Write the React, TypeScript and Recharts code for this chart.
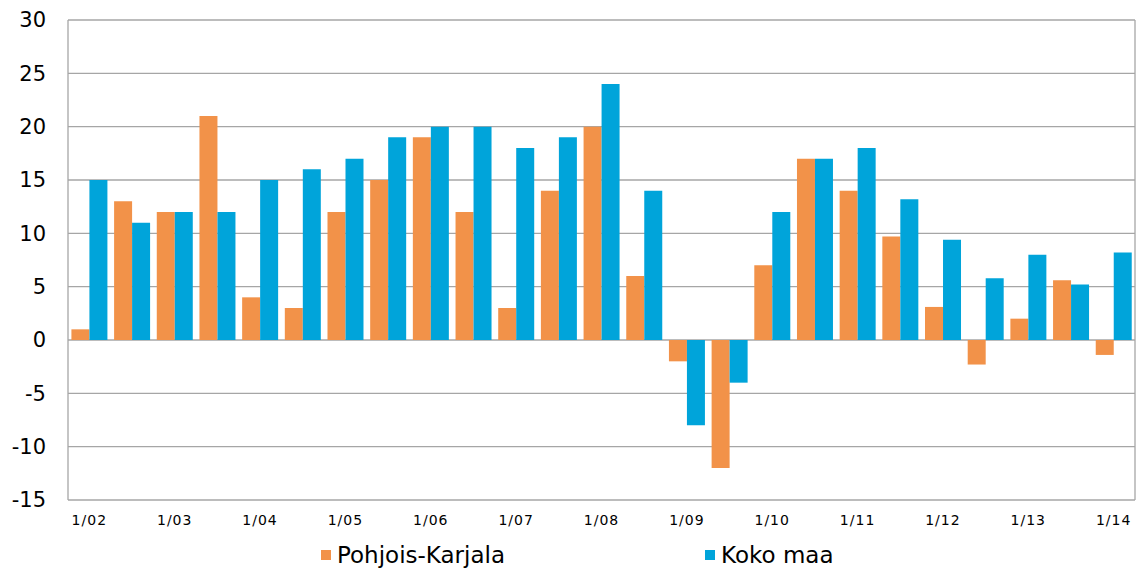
import { BarChart, Bar, XAxis, YAxis, CartesianGrid } from "recharts"

const categories = [
  "1/02", "7/02", "1/03", "7/03", "1/04", "7/04", "1/05", "7/05", "1/06", "7/06",
  "1/07", "7/07", "1/08", "7/08", "1/09", "7/09", "1/10", "7/10", "1/11", "7/11",
  "1/12", "7/12", "1/13", "7/13", "1/14",
]
const pohjoisKarjala = [
  1, 13, 12, 21, 4, 3, 12, 15, 19, 12,
  3, 14, 20, 6, -2, -12, 7, 17, 14, 9.7,
  3.1, -2.3, 2, 5.6, -1.4,
]
const kokoMaa = [
  15, 11, 12, 12, 15, 16, 17, 19, 20, 20,
  18, 19, 24, 14, -8, -4, 12, 17, 18, 13.2,
  9.4, 5.8, 8, 5.2, 8.2,
]
const yTicks = [-15, -10, -5, 0, 5, 10, 15, 20, 25, 30]

const ORANGE = "#F29249"
const BLUE = "#00A4DA"

const data = categories.map((c, i) => ({
  cat: c,
  pk: pohjoisKarjala[i],
  km: kokoMaa[i],
}))

function LegendItem({ color, label, left }: { color: string; label: string; left: number }) {
  return (
    <div style={{ position: "absolute", left, top: 541, display: "flex", alignItems: "center" }}>
      <span style={{ width: 10, height: 10, background: color, marginRight: 6, display: "inline-block" }} />
      <span style={{ fontSize: 23, color: "#000", fontFamily: "'DejaVu Sans', sans-serif", lineHeight: "28px" }}>
        {label}
      </span>
    </div>
  )
}

export default function App() {
  return (
    <div style={{ position: "absolute", left: 0, top: 0, width: 1146, height: 571, background: "#fff", overflow: "hidden" }}>
      <BarChart
        width={1146}
        height={571}
        data={data}
        margin={{ top: 20, right: 11, left: 0, bottom: 41 }}
        barCategoryGap="8%"
        barGap={0}
      >
        <CartesianGrid vertical={true} verticalPoints={[1135]} stroke="#A6A6A6" strokeWidth={1.3} />
        <XAxis
          dataKey="cat"
          interval={1}
          axisLine={false}
          tickLine={false}
          height={30}
          tick={{ fontSize: 14, fill: "#000", fontFamily: "'DejaVu Sans', sans-serif", letterSpacing: 1 }}
          dy={7}
        />
        <YAxis
          width={68}
          domain={[-15, 30]}
          ticks={yTicks}
          tickLine={false}
          axisLine={{ stroke: "#A6A6A6", strokeWidth: 1.3 }}
          tick={{ fontSize: 21, fill: "#000", fontFamily: "'DejaVu Sans', sans-serif" }}
          dx={-14}
        />
        <Bar dataKey="pk" fill={ORANGE} isAnimationActive={false} />
        <Bar dataKey="km" fill={BLUE} isAnimationActive={false} />
      </BarChart>
      <LegendItem color={ORANGE} label="Pohjois-Karjala" left={321} />
      <LegendItem color={BLUE} label="Koko maa" left={705} />
    </div>
  )
}
